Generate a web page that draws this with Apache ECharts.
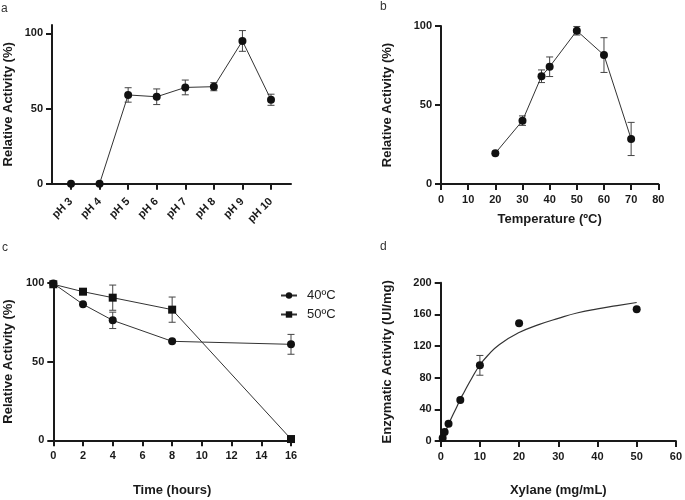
<!DOCTYPE html>
<html><head><meta charset="utf-8">
<script src="https://cdn.jsdelivr.net/npm/echarts@6/dist/echarts.min.js"></script>
<style>html,body{margin:0;padding:0;background:#fff}#c{width:685px;height:500px}</style>
</head><body><div id="c"></div>
<script>
// Panel a: pH
const phCategories = ['pH 3','pH 4','pH 5','pH 6','pH 7','pH 8','pH 9','pH 10'];
const phActivity = [0, 0, 59, 57.8, 64, 64.5, 94.9, 55.8];
const phError = [0, 0, 4.8, 5.2, 4.9, 2.7, 6.9, 3.7];
// Panel b: temperature
const temperatures = [20, 30, 37, 40, 50, 60, 70];
const tempActivity = [19.5, 40.1, 68.2, 74.2, 97, 81.6, 28.5];
const tempError = [0, 3, 4, 6.2, 2.7, 11, 10.5];
// Panel c: thermostability
const timeHours = [0, 2, 4, 8, 16];
const act40 = [99.5, 86.3, 76.1, 62.8, 60.9];
const err40 = [0, 0, 5.2, 0, 6.3];
const act50 = [99, 94.3, 90.5, 82.9, 0.8];
const err50 = [1, 1.5, 8, 8, 0];
// Panel d: kinetics
const xylane = [0.5, 1, 2, 5, 10, 20, 50];
const enzActivity = [3.8, 11.4, 21.9, 51.8, 95.6, 148.7, 166.4];
const enzError = [0, 0, 0, 0, 12.5, 0, 0];
const fitX = [0, 1, 2, 3, 4, 5, 6, 8, 10, 12, 15, 20, 25, 30, 35, 40, 45, 50];
const fitY = [0, 10, 21, 32, 42, 53, 62, 80, 96, 108, 122, 137, 147, 155, 162, 167, 171, 175];

const F = "'Liberation Sans', Arial, Helvetica, sans-serif";
const INK = '#1a1a1a';

function ax(extra) {
  const base = {
    axisLine: {show: true, onZero: false, lineStyle: {color: INK, width: 2}},
    axisTick: {show: true, length: 6, lineStyle: {color: INK, width: 2}},
    axisLabel: {color: INK, fontSize: 11, fontWeight: 'bold', fontFamily: F, margin: 10},
    splitLine: {show: false},
    nameLocation: 'middle',
    nameTextStyle: {color: INK, fontSize: 13, fontWeight: 'bold', fontFamily: F}
  };
  const o = Object.assign({}, base, extra);
  if (extra.axisTick) o.axisTick = Object.assign({}, base.axisTick, extra.axisTick);
  if (extra.axisLabel) o.axisLabel = Object.assign({}, base.axisLabel, extra.axisLabel);
  return o;
}

function errSeries(xi, xs, ys, es) {
  const data = [];
  xs.forEach((x, i) => { if (es[i] > 0) data.push([x, ys[i] - es[i], ys[i] + es[i]]); });
  return {
    type: 'custom', xAxisIndex: xi, yAxisIndex: xi, data, clip: false, z: 3, silent: true,
    encode: {x: 0, y: [1, 2]},
    renderItem: (p, api) => {
      const x = api.value(0);
      const lo = api.coord([x, api.value(1)]);
      const hi = api.coord([x, api.value(2)]);
      const w = 3.5;
      const st = {stroke: '#444', lineWidth: 1};
      return {type: 'group', children: [
        {type: 'line', shape: {x1: lo[0], y1: lo[1], x2: hi[0], y2: hi[1]}, style: st},
        {type: 'line', shape: {x1: lo[0] - w, y1: lo[1], x2: lo[0] + w, y2: lo[1]}, style: st},
        {type: 'line', shape: {x1: hi[0] - w, y1: hi[1], x2: hi[0] + w, y2: hi[1]}, style: st}
      ]};
    }
  };
}

function lineSeries(xi, name, xs, ys, symbol) {
  return {
    type: 'line', name, xAxisIndex: xi, yAxisIndex: xi, clip: false, z: 4,
    data: xs.map((x, i) => [x, ys[i]]),
    symbol, symbolSize: 8, showSymbol: true,
    itemStyle: {color: '#111', opacity: 1},
    lineStyle: {color: '#333', width: 1},
    emphasis: {disabled: true}
  };
}

const phIdx = phCategories.map((c, i) => i);

const option = {
  animation: false,
  backgroundColor: '#fff',
  textStyle: {fontFamily: F},
  grid: [
    {left: 52, top: 25, width: 239, height: 158.7},
    {left: 441, top: 26, width: 217.3, height: 158},
    {left: 53.3, top: 282.7, width: 237.7, height: 157.6},
    {left: 440.7, top: 282.7, width: 238.3, height: 158.3}
  ],
  xAxis: [
    ax({type: 'value', gridIndex: 0, min: -0.665, max: 7.7,
        axisTick: {customValues: phIdx},
        axisLabel: {customValues: phIdx, rotate: 45, margin: 16, formatter: v => phCategories[Math.round(v)]}}),
    ax({type: 'value', gridIndex: 1, min: 0, max: 80, interval: 10,
        name: 'Temperature (ºC)', nameGap: 29}),
    ax({type: 'value', gridIndex: 2, min: 0, max: 16, interval: 2,
        name: 'Time (hours)', nameGap: 44}),
    ax({type: 'value', gridIndex: 3, min: 0, max: 60, interval: 10,
        name: 'Xylane (mg/mL)', nameGap: 43})
  ],
  yAxis: [
    ax({type: 'value', gridIndex: 0, min: 0, max: 105.5,
        axisTick: {customValues: [0, 50, 100]}, axisLabel: {customValues: [0, 50, 100], margin: 9},
        name: 'Relative Activity (%)', nameGap: 37}),
    ax({type: 'value', gridIndex: 1, min: 0, max: 100, interval: 50,
        axisLabel: {margin: 9},
        name: 'Relative Activity (%)', nameGap: 47}),
    ax({type: 'value', gridIndex: 2, min: 0, max: 100, interval: 50,
        axisLabel: {margin: 9},
        name: 'Relative Activity (%)', nameGap: 38}),
    ax({type: 'value', gridIndex: 3, min: 0, max: 200, interval: 40,
        axisLabel: {margin: 9},
        name: 'Enzymatic Activity (UI/mg)', nameGap: 47})
  ],
  legend: {
    data: ['40ºC', '50ºC'], orient: 'vertical', left: 275, top: 284,
    itemWidth: 16, itemHeight: 8, itemGap: 6,
    textStyle: {fontFamily: F, fontSize: 13, color: '#222', padding: [0, 0, 0, 5]}
  },
  graphic: [
    {type: 'text', left: 1, top: 3, style: {text: 'a', font: '12px ' + F, fill: '#333'}},
    {type: 'text', left: 380, top: 1, style: {text: 'b', font: '12px ' + F, fill: '#333'}},
    {type: 'text', left: 2, top: 242, style: {text: 'c', font: '12px ' + F, fill: '#333'}},
    {type: 'text', left: 380, top: 241, style: {text: 'd', font: '12px ' + F, fill: '#333'}}
  ],
  series: [
    errSeries(0, phIdx, phActivity, phError),
    lineSeries(0, 'pH', phIdx, phActivity, 'circle'),
    errSeries(1, temperatures, tempActivity, tempError),
    lineSeries(1, 'Temperature', temperatures, tempActivity, 'circle'),
    errSeries(2, timeHours, act40, err40),
    errSeries(2, timeHours, act50, err50),
    lineSeries(2, '40ºC', timeHours, act40, 'circle'),
    lineSeries(2, '50ºC', timeHours, act50, 'rect'),
    {
      type: 'line', name: 'fit', xAxisIndex: 3, yAxisIndex: 3, smooth: true, showSymbol: false, symbol: 'none',
      data: fitX.map((x, i) => [x, fitY[i]]), lineStyle: {color: '#333', width: 1.2}, z: 3, silent: true
    },
    errSeries(3, xylane, enzActivity, enzError),
    {
      type: 'scatter', name: 'Activity', xAxisIndex: 3, yAxisIndex: 3, clip: false, z: 4,
      data: xylane.map((x, i) => [x, enzActivity[i]]), symbol: 'circle', symbolSize: 8,
      itemStyle: {color: '#111', opacity: 1}
    }
  ]
};

const chart = echarts.init(document.getElementById('c'), null, {renderer: 'canvas'});
chart.setOption(option);
</script>
</body></html>
